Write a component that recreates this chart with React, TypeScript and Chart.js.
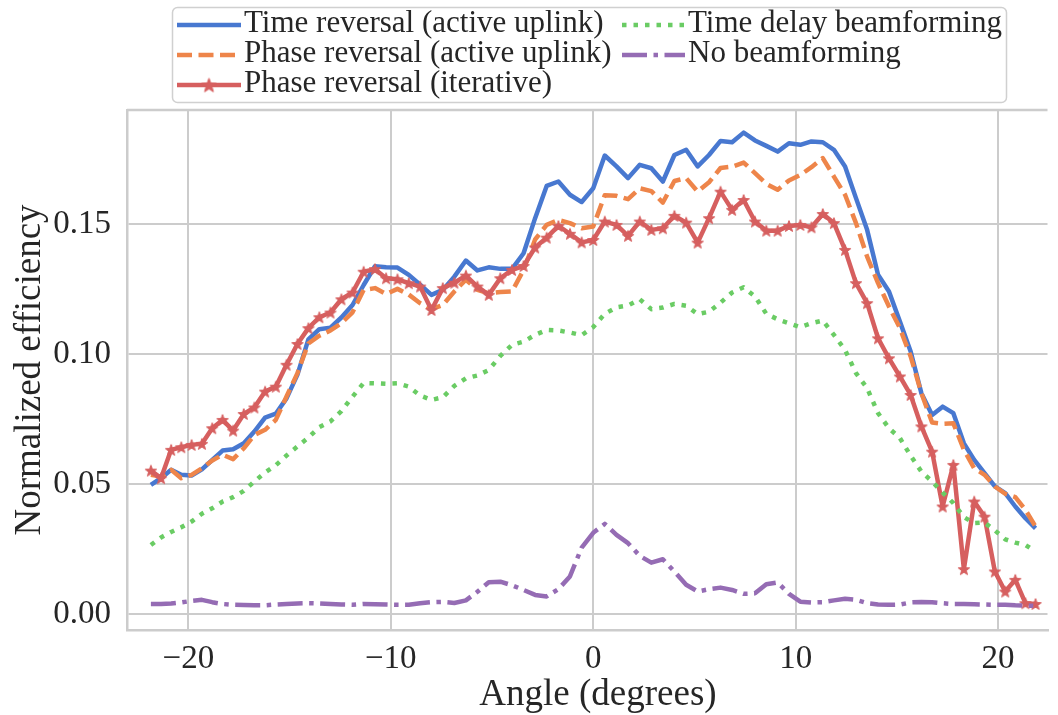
import React, { useEffect, useRef } from 'react';
import { Chart, registerables } from 'chart.js';

Chart.register(...registerables);

// ---- data ----
const angles = [
  -21.85, -21.35, -20.85, -20.35, -19.84, -19.33, -18.82, -18.31, -17.79, -17.26,
  -16.74, -16.21, -15.68, -15.15, -14.61, -14.07, -13.53, -12.98, -12.44, -11.89,
  -11.34, -10.78, -10.23, -9.67, -9.11, -8.55, -7.99, -7.43, -6.86, -6.29,
  -5.72, -5.16, -4.59, -4.01, -3.44, -2.87, -2.3, -1.72, -1.15, -0.57,
  0,
  0.57, 1.15, 1.72, 2.3, 2.87, 3.44, 4.01, 4.59, 5.16, 5.72,
  6.29, 6.86, 7.43, 7.99, 8.55, 9.11, 9.67, 10.23, 10.78, 11.34,
  11.89, 12.44, 12.98, 13.53, 14.07, 14.61, 15.15, 15.68, 16.21, 16.74,
  17.26, 17.79, 18.31, 18.82, 19.33, 19.84, 20.35, 20.85, 21.35, 21.85,
];

const timeReversal = [
  0.0496, 0.0522, 0.0554, 0.0535, 0.0532, 0.0556, 0.0592, 0.0628, 0.0633, 0.0656,
  0.0701, 0.0755, 0.077, 0.0829, 0.092, 0.1056, 0.1095, 0.1101, 0.114, 0.1188,
  0.1265, 0.1337, 0.1333, 0.1332, 0.1304, 0.1266, 0.1227, 0.1246, 0.1297, 0.1359,
  0.1321, 0.1333, 0.1327, 0.1327, 0.1387, 0.1522, 0.1646, 0.1663, 0.1612, 0.1584,
  0.1637,
  0.1763, 0.1721, 0.1676, 0.1727, 0.1714, 0.1663, 0.1765, 0.1785, 0.1721, 0.1765,
  0.1819, 0.1814, 0.1851, 0.1821, 0.18, 0.1778, 0.181, 0.1804, 0.1817, 0.1814,
  0.1785, 0.1721, 0.1599, 0.1477, 0.1304, 0.124, 0.1124, 0.1009, 0.0849, 0.0765,
  0.0797, 0.0772, 0.0656, 0.0592, 0.0541, 0.049, 0.0464, 0.0413, 0.0368, 0.0329,
];

const phaseReversalActive = [
  0.0535, 0.0528, 0.0554, 0.0522, 0.0535, 0.056, 0.059, 0.0612, 0.0595, 0.0637,
  0.0688, 0.0708, 0.0746, 0.0836, 0.0926, 0.104, 0.107, 0.109, 0.1118, 0.116,
  0.1246, 0.1253, 0.123, 0.125, 0.1228, 0.1195, 0.1172, 0.1188, 0.124, 0.1285,
  0.1246, 0.1233, 0.1238, 0.124, 0.1323, 0.144, 0.1496, 0.1515, 0.1503, 0.1483,
  0.149,
  0.161, 0.1608, 0.1595, 0.1637, 0.1626, 0.1582, 0.1665, 0.1676, 0.1624, 0.166,
  0.1715, 0.172, 0.1736, 0.1695, 0.1654, 0.1631, 0.1667, 0.1688, 0.1718, 0.1753,
  0.1682, 0.1612, 0.1503, 0.1374, 0.1272, 0.1182, 0.1099, 0.099, 0.0849, 0.0736,
  0.0731, 0.0733, 0.0631, 0.056, 0.0535, 0.049, 0.0462, 0.0449, 0.04, 0.0336,
];

const phaseReversalIterative = [
  0.0551, 0.0522, 0.0631, 0.0641, 0.065, 0.0654, 0.0714, 0.0746, 0.0705, 0.0769,
  0.0794, 0.0855, 0.0874, 0.0958, 0.1038, 0.1099, 0.1141, 0.1159, 0.121, 0.1236,
  0.1316, 0.1326, 0.1291, 0.1287, 0.1272, 0.1259, 0.1169, 0.1253, 0.1274, 0.1301,
  0.1259, 0.1227, 0.1291, 0.1323, 0.1338, 0.1409, 0.1447, 0.1492, 0.1462, 0.1429,
  0.1438,
  0.1509, 0.1496, 0.1454, 0.1509, 0.1477, 0.1483, 0.1531, 0.1505, 0.1428, 0.1522,
  0.1624, 0.1554, 0.1592, 0.1509, 0.1474, 0.1474, 0.1492, 0.1496, 0.1487, 0.1538,
  0.1503, 0.14, 0.1272, 0.1195, 0.106, 0.0983, 0.0913, 0.0842, 0.0721, 0.0624,
  0.0413, 0.0573, 0.0172, 0.0432, 0.0374, 0.0163, 0.0086, 0.0131, 0.0041, 0.0038,
];

const timeDelay = [
  0.0265, 0.0294, 0.0315, 0.0333, 0.0355, 0.0385, 0.0406, 0.0432, 0.0449, 0.0473,
  0.0509, 0.0544, 0.0572, 0.0609, 0.0644, 0.0678, 0.0718, 0.074, 0.078, 0.0835,
  0.0888, 0.0887, 0.0885, 0.0887, 0.0874, 0.084, 0.0823, 0.0833, 0.0877, 0.0906,
  0.0917, 0.0938, 0.0992, 0.1035, 0.1047, 0.1073, 0.1092, 0.109, 0.1082, 0.1072,
  0.1103,
  0.1154, 0.1179, 0.1186, 0.121, 0.1172, 0.1178, 0.1192, 0.1185, 0.1153, 0.1162,
  0.1197, 0.1236, 0.1256, 0.1221, 0.1154, 0.1133, 0.1118, 0.1103, 0.1118, 0.1128,
  0.1073, 0.1015, 0.0926, 0.0868, 0.0772, 0.0714, 0.0676, 0.0608, 0.0547, 0.0509,
  0.0467, 0.0426, 0.0372, 0.0349, 0.0351, 0.0321, 0.0287, 0.0274, 0.0265, 0.024,
];

const noBeamforming = [
  0.0038, 0.0038, 0.004, 0.0044, 0.005, 0.0054, 0.0045, 0.0038, 0.0035, 0.0034,
  0.0033, 0.0033, 0.0036, 0.0038, 0.004, 0.0041, 0.004, 0.0038, 0.0036, 0.0035,
  0.0038, 0.0037, 0.0036, 0.0035, 0.0035, 0.0041, 0.0045, 0.0046, 0.0042, 0.0052,
  0.0085, 0.0122, 0.0124, 0.011, 0.0092, 0.0073, 0.0067, 0.0095, 0.0144, 0.0255,
  0.0312,
  0.0346, 0.0304, 0.0272, 0.0223, 0.0197, 0.021, 0.0163, 0.0112, 0.0086, 0.0095,
  0.0101, 0.0092, 0.0077, 0.0079, 0.0114, 0.0121, 0.0077, 0.0047, 0.0044, 0.0045,
  0.0052, 0.0058, 0.0054, 0.0041, 0.0036, 0.0035, 0.0036, 0.0044, 0.0046, 0.0045,
  0.0041, 0.0038, 0.0038, 0.0037, 0.0036, 0.0035, 0.0035, 0.0033, 0.0032, 0.0031,
];

const seriesLabels = [
  'Time reversal (active uplink)',
  'Phase reversal (active uplink)',
  'Phase reversal (iterative)',
  'Time delay beamforming',
  'No beamforming',
];
const xTickValues = [-20, -10, 0, 10, 20];
const yTickValues = [0, 0.05, 0.1, 0.15];
const xTitle = 'Angle (degrees)';
const yTitle = 'Normalized efficiency';

// ---- styles ----
const FONT = "'Liberation Serif', 'Times New Roman', serif";
const TEXT = '#262626';
const GRID = '#cccccc';
const COLORS = ['#4878d0', '#ee854a', '#d65f5f', '#6acc64', '#956cb4'];
const DASHES: number[][] = [[], [15, 6.5], [], [4.5, 7], [25, 6.5, 4.5, 6.5]];
const LINE_W = 4.5;

function makeStar(outer: number, color: string): HTMLCanvasElement {
  const size = Math.ceil(outer * 2 + 2);
  const c = document.createElement('canvas');
  c.width = size;
  c.height = size;
  const g = c.getContext('2d')!;
  const cx = size / 2;
  const cy = size / 2 + outer * 0.1;
  const inner = outer * 0.42;
  g.beginPath();
  for (let i = 0; i < 10; i++) {
    const r = i % 2 === 0 ? outer : inner;
    const a = -Math.PI / 2 + (i * Math.PI) / 5;
    const px = cx + r * Math.cos(a);
    const py = cy + r * Math.sin(a);
    if (i === 0) g.moveTo(px, py);
    else g.lineTo(px, py);
  }
  g.closePath();
  g.fillStyle = color;
  g.fill();
  g.strokeStyle = color;
  g.lineWidth = 1;
  g.stroke();
  return c;
}

const fmt = (v: number, d: number) => {
  const s = Math.abs(v).toFixed(d);
  return v < 0 ? '\u2212' + s : s;
};

export default function App() {
  const ref = useRef<HTMLCanvasElement>(null);

  useEffect(() => {
    if (!ref.current) return;
    const star = makeStar(6, COLORS[2]);
    const legendStar = makeStar(7.5, COLORS[2]);
    const series = [timeReversal, phaseReversalActive, phaseReversalIterative, timeDelay, noBeamforming];

    const datasets = series.map((vals, k) => ({
      label: seriesLabels[k],
      data: angles.map((a, i) => ({ x: a, y: vals[i] })),
      borderColor: COLORS[k],
      backgroundColor: COLORS[k],
      borderWidth: LINE_W,
      borderDash: DASHES[k],
      borderJoinStyle: 'round' as const,
      borderCapStyle: 'butt' as const,
      pointRadius: k === 2 ? 6 : 0,
      pointHoverRadius: k === 2 ? 6 : 0,
      pointStyle: k === 2 ? (star as any) : 'circle',
      tension: 0,
      fill: false,
      order: 5 - k,
    }));

    const framePlugin = {
      id: 'frameTop',
      afterDatasetsDraw(chart: any) {
        const { ctx, chartArea } = chart;
        ctx.save();
        ctx.strokeStyle = GRID;
        ctx.lineWidth = 2.5;
        ctx.beginPath();
        ctx.moveTo(chartArea.left, chartArea.top);
        ctx.lineTo(chartArea.right, chartArea.top);
        ctx.stroke();
        ctx.restore();
      },
    };

    const xTitlePlugin = {
      id: 'xTitle',
      afterDraw(chart: any) {
        const ctx: CanvasRenderingContext2D = chart.ctx;
        ctx.save();
        ctx.fillStyle = TEXT;
        ctx.font = `37px ${FONT}`;
        ctx.textAlign = 'center';
        ctx.textBaseline = 'alphabetic';
        ctx.fillText(xTitle, 598, 705);
        ctx.restore();
      },
    };

    const legendPlugin = {
      id: 'mplLegend',
      afterDraw(chart: any) {
        const ctx: CanvasRenderingContext2D = chart.ctx;
        ctx.save();
        const bx = 172.5, by = 7.5, bw = 834, bh = 95, r = 5;
        ctx.beginPath();
        ctx.moveTo(bx + r, by);
        ctx.lineTo(bx + bw - r, by);
        ctx.arcTo(bx + bw, by, bx + bw, by + r, r);
        ctx.lineTo(bx + bw, by + bh - r);
        ctx.arcTo(bx + bw, by + bh, bx + bw - r, by + bh, r);
        ctx.lineTo(bx + r, by + bh);
        ctx.arcTo(bx, by + bh, bx, by + bh - r, r);
        ctx.lineTo(bx, by + r);
        ctx.arcTo(bx, by, bx + r, by, r);
        ctx.closePath();
        ctx.fillStyle = 'rgba(255,255,255,0.8)';
        ctx.fill();
        ctx.strokeStyle = '#d0d0d0';
        ctx.lineWidth = 1.5;
        ctx.stroke();

        const rows = [25, 55, 85];
        const cols = [
          { h0: 177, h1: 241, t: 244 },
          { h0: 622, h1: 685, t: 688 },
        ];
        const ds = chart.data.datasets;
        ds.forEach((d: any, k: number) => {
          const col = cols[k < 3 ? 0 : 1];
          const y = rows[k < 3 ? k : k - 3];
          ctx.beginPath();
          ctx.setLineDash(DASHES[k]);
          ctx.strokeStyle = d.borderColor;
          ctx.lineWidth = LINE_W;
          ctx.lineCap = 'butt';
          ctx.moveTo(col.h0, y);
          ctx.lineTo(col.h1, y);
          ctx.stroke();
          ctx.setLineDash([]);
          if (k === 2) {
            const cx = (col.h0 + col.h1) / 2;
            ctx.drawImage(legendStar, cx - legendStar.width / 2, y - legendStar.height / 2);
          }
          ctx.fillStyle = TEXT;
          ctx.font = `31px ${FONT}`;
          ctx.textBaseline = 'middle';
          ctx.textAlign = 'left';
          ctx.fillText(d.label, col.t, y - 1);
        });
        ctx.restore();
      },
    };

    const chart = new Chart(ref.current, {
      type: 'line',
      data: { datasets: datasets as any },
      options: {
        animation: false,
        responsive: false,
        maintainAspectRatio: false,
        devicePixelRatio: 1,
        layout: { padding: { top: 110, left: 0, right: 0, bottom: 0 } },
        plugins: {
          legend: { display: false },
          tooltip: { enabled: false },
        },
        scales: {
          x: {
            type: 'linear',
            min: -23.03,
            max: 22.44,
            afterBuildTicks: (s: any) => {
              s.ticks = xTickValues.map((v) => ({ value: v }));
            },
            afterFit: (s: any) => {
              s.height = 85;
            },
            grid: { color: GRID, lineWidth: 2, drawTicks: false },
            border: { display: true, color: GRID, width: 2.5 },
            ticks: {
              color: TEXT,
              font: { family: FONT, size: 33 },
              padding: 10,
              maxRotation: 0,
              autoSkip: false,
              callback: (v: any) => fmt(Number(v), 0),
            },
            title: { display: false, text: xTitle },
          },
          y: {
            type: 'linear',
            min: -0.0062,
            max: 0.1938,
            afterBuildTicks: (s: any) => {
              s.ticks = yTickValues.map((v) => ({ value: v }));
            },
            afterFit: (s: any) => {
              s.width = 127;
            },
            grid: { color: GRID, lineWidth: 2, drawTicks: false },
            border: { display: true, color: GRID, width: 2.5 },
            ticks: {
              color: TEXT,
              font: { family: FONT, size: 33 },
              padding: 16,
              autoSkip: false,
              callback: (v: any) => fmt(Number(v), 2),
            },
            title: {
              display: true,
              text: yTitle,
              color: TEXT,
              font: { family: FONT, size: 37 },
              padding: { top: 8, bottom: 0 },
            },
          },
        },
      },
      plugins: [framePlugin, legendPlugin, xTitlePlugin],
    });

    return () => chart.destroy();
  }, []);

  return (
    <div style={{ position: 'absolute', left: 0, top: 0, width: 1058, height: 715, background: '#ffffff' }}>
      <canvas ref={ref} width={1058} height={715} style={{ display: 'block' }} />
    </div>
  );
}
